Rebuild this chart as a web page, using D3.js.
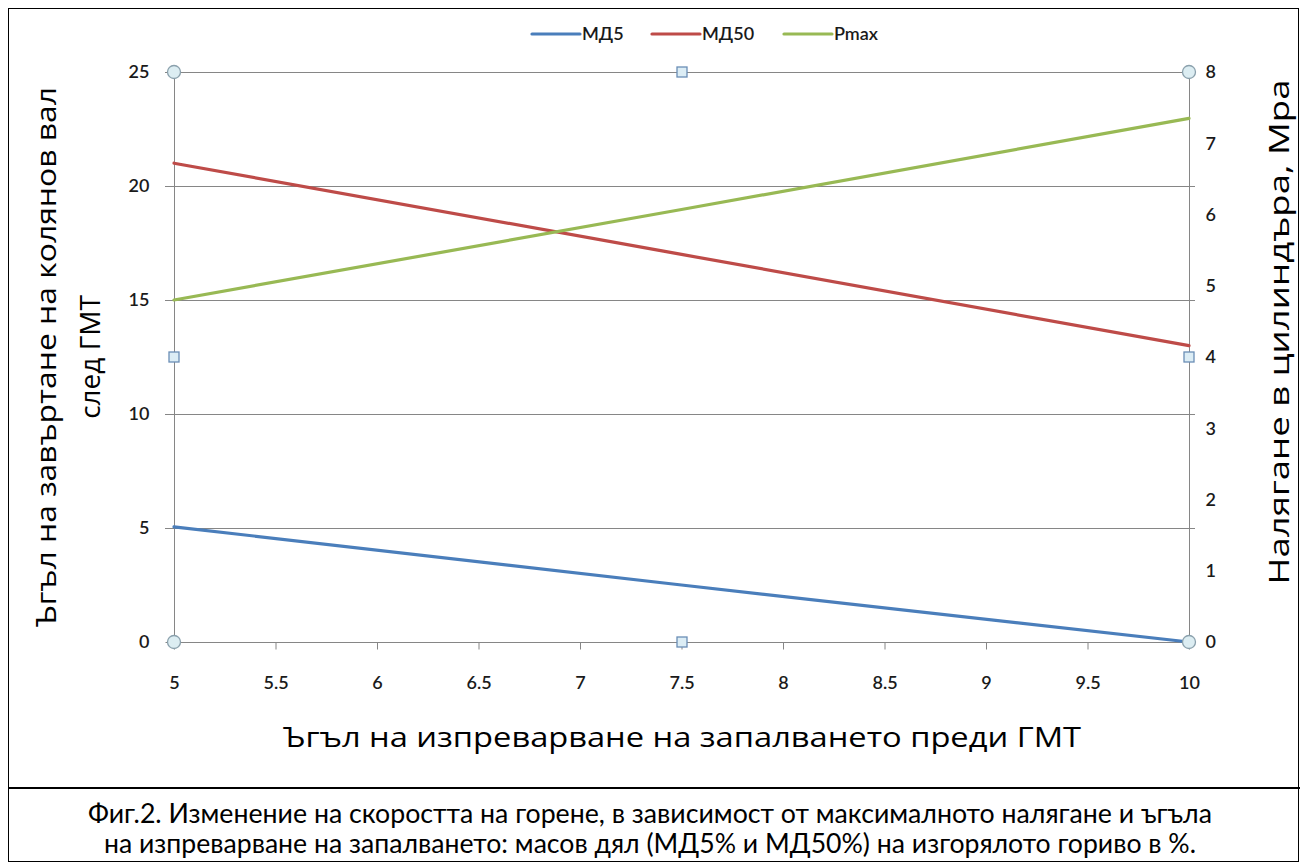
<!DOCTYPE html>
<html><head><meta charset="utf-8">
<script src="https://cdn.jsdelivr.net/npm/d3@7"></script>
<style>body{margin:0;background:#fff}svg{display:block}</style>
</head><body>
<svg id="c" width="1300" height="863"></svg>
<script>
const xValues = [5, 7.5, 10];
const md5 = [5.05, 2.5, 0];
const md50 = [21, 17, 13];
const pmax = [4.8, 6.07, 7.35];
const seriesNames = ["МД5", "МД50", "Pmax"];
const seriesColors = ["#4a7ebb", "#be4b48", "#98b954"];
const xTicks = [5, 5.5, 6, 6.5, 7, 7.5, 8, 8.5, 9, 9.5, 10];
const yLeftTicks = [0, 5, 10, 15, 20, 25];
const yRightTicks = [0, 1, 2, 3, 4, 5, 6, 7, 8];
const xTitle = "Ъгъл на изпреварване на запалването преди ГМТ";
const yLeftTitle = ["Ъгъл на завъртане на колянов вал", "след ГМТ"];
const yRightTitle = "Налягане в цилиндъра, Мра";
const caption = ["Фиг.2. Изменение на скоростта на горене, в зависимост от максималното налягане и ъгъла",
                 "на изпреварване на запалването: масов дял (МД5% и МД50%) на изгорялото гориво в %."];

const svg = d3.select("#c");
const font = "'Open Sans', 'DejaVu Sans', sans-serif";
const tickFont = "'Lato', 'Open Sans', sans-serif";
const capFont = "'Lato', 'Liberation Sans', sans-serif";

// frame
svg.append("rect").attr("x",8.5).attr("y",8.5).attr("width",1290).attr("height",853)
  .attr("fill","none").attr("stroke","#000").attr("stroke-width",1);
svg.append("line").attr("x1",8).attr("x2",1300).attr("y1",788).attr("y2",788)
  .attr("stroke","#000").attr("stroke-width",2);

const x = d3.scaleLinear().domain([5,10]).range([174,1189]);
const yL = d3.scaleLinear().domain([0,25]).range([642,72]);
const yR = d3.scaleLinear().domain([0,8]).range([642,72]);

const g = svg.append("g");
// gridlines
g.selectAll(".grid").data(yLeftTicks.filter(d=>d>0)).join("line")
  .attr("x1",165).attr("x2",1195).attr("y1",d=>yL(d)+0.5).attr("y2",d=>yL(d)+0.5)
  .attr("stroke","#868686").attr("stroke-width",1);

// x axis
const xAxis = d3.axisBottom(x).tickValues(xTicks).tickSize(7).tickFormat(d3.format("~g"));
const gx = g.append("g").attr("transform","translate(0,642.5)").call(xAxis);
gx.select(".domain").attr("stroke","#868686").attr("d","M174,0H1189");
gx.selectAll(".tick line").attr("stroke","#868686");
gx.selectAll(".tick text").attr("font-family",tickFont).attr("font-size",18).attr("font-weight",600).attr("fill","#1a1a1a").attr("dy","0").attr("y",46);

// left axis
const yAxisL = d3.axisLeft(yL).tickValues(yLeftTicks).tickSize(9).tickFormat(d3.format("d"));
const gl = g.append("g").attr("transform","translate(174.5,0)").call(yAxisL);
gl.select(".domain").attr("stroke","#868686").attr("d","M0,72V642");
gl.selectAll(".tick line").attr("stroke","#868686");
gl.selectAll(".tick text").attr("font-family",tickFont).attr("font-size",18).attr("font-weight",600).attr("fill","#1a1a1a").attr("x",-25);

// right axis
const yAxisR = d3.axisRight(yR).tickValues(yRightTicks).tickSize(0).tickFormat(d3.format("d"));
const gr = g.append("g").attr("transform","translate(1189.5,0)").call(yAxisR);
gr.select(".domain").attr("stroke","#868686").attr("d","M0,72V642");
gr.selectAll(".tick text").attr("font-family",tickFont).attr("font-size",18).attr("font-weight",600).attr("fill","#1a1a1a").attr("x",16);
g.append("line").attr("x1",1189).attr("x2",1195).attr("y1",642.5).attr("y2",642.5).attr("stroke","#868686");

// lines
const mk = (arr, ys) => d3.line().x((d,i)=>x(xValues[i])).y(d=>ys(d))(arr);
const series = [[md5,yL],[md50,yL],[pmax,yR]];
series.forEach((s,i)=>{
  g.append("path").attr("d",mk(s[0],s[1])).attr("fill","none")
    .attr("stroke",seriesColors[i]).attr("stroke-width",3.2).attr("stroke-linecap","round");
});

// selection handles
const corners = [[174,72],[1189,72],[174,642],[1189,642]];
g.selectAll(".hc").data(corners).join("circle").attr("cx",d=>d[0]).attr("cy",d=>d[1]).attr("r",6.5)
  .attr("fill","#dcedf2").attr("stroke","#8aa0ac").attr("stroke-width",1.3);
const mids = [[682,72],[682,642],[174,357],[1189,357]];
g.selectAll(".hs").data(mids).join("rect").attr("x",d=>d[0]-5).attr("y",d=>d[1]-5).attr("width",10).attr("height",10)
  .attr("fill","#dcedf5").attr("stroke","#6a8eb6").attr("stroke-width",1.3);

// legend
const legX = [532, 652, 784];
seriesNames.forEach((n,i)=>{
  svg.append("line").attr("x1",legX[i]).attr("x2",legX[i]+48).attr("y1",34).attr("y2",34)
    .attr("stroke",seriesColors[i]).attr("stroke-width",3.2).attr("stroke-linecap","round");
  svg.append("text").attr("x",legX[i]+50).attr("y",40).text(n)
    .attr("font-family",tickFont).attr("font-size",18).attr("font-weight",600).attr("fill","#1a1a1a");
});

// titles
svg.append("text").attr("x",682).attr("y",747).attr("text-anchor","middle").text(xTitle)
  .attr("font-family",font).attr("font-size",28).attr("fill","#000")
  .attr("textLength",798).attr("lengthAdjust","spacingAndGlyphs");
[[yLeftTitle[0],56,540],[yLeftTitle[1],100,null]].forEach(([t,xx,len])=>{
  const tx = svg.append("text").attr("transform",`translate(${xx},357) rotate(-90)`)
    .attr("text-anchor","middle").text(t).attr("font-family",font).attr("font-size",28).attr("fill","#000");
  if(len) tx.attr("textLength",len).attr("lengthAdjust","spacingAndGlyphs");
});
svg.append("text").attr("transform","translate(1289,332) rotate(-90)").attr("text-anchor","middle")
  .text(yRightTitle).attr("font-family",font).attr("font-size",28).attr("fill","#000")
  .attr("textLength",505).attr("lengthAdjust","spacingAndGlyphs");

// caption
svg.append("text").attr("x",650).attr("y",823).attr("text-anchor","middle").text(caption[0])
  .attr("font-family",capFont).attr("font-size",27).attr("fill","#000")
  .attr("textLength",1124).attr("lengthAdjust","spacingAndGlyphs");
svg.append("text").attr("x",650).attr("y",853).attr("text-anchor","middle").text(caption[1])
  .attr("font-family",capFont).attr("font-size",27).attr("fill","#000")
  .attr("textLength",1092).attr("lengthAdjust","spacingAndGlyphs");
</script>
</body></html>
